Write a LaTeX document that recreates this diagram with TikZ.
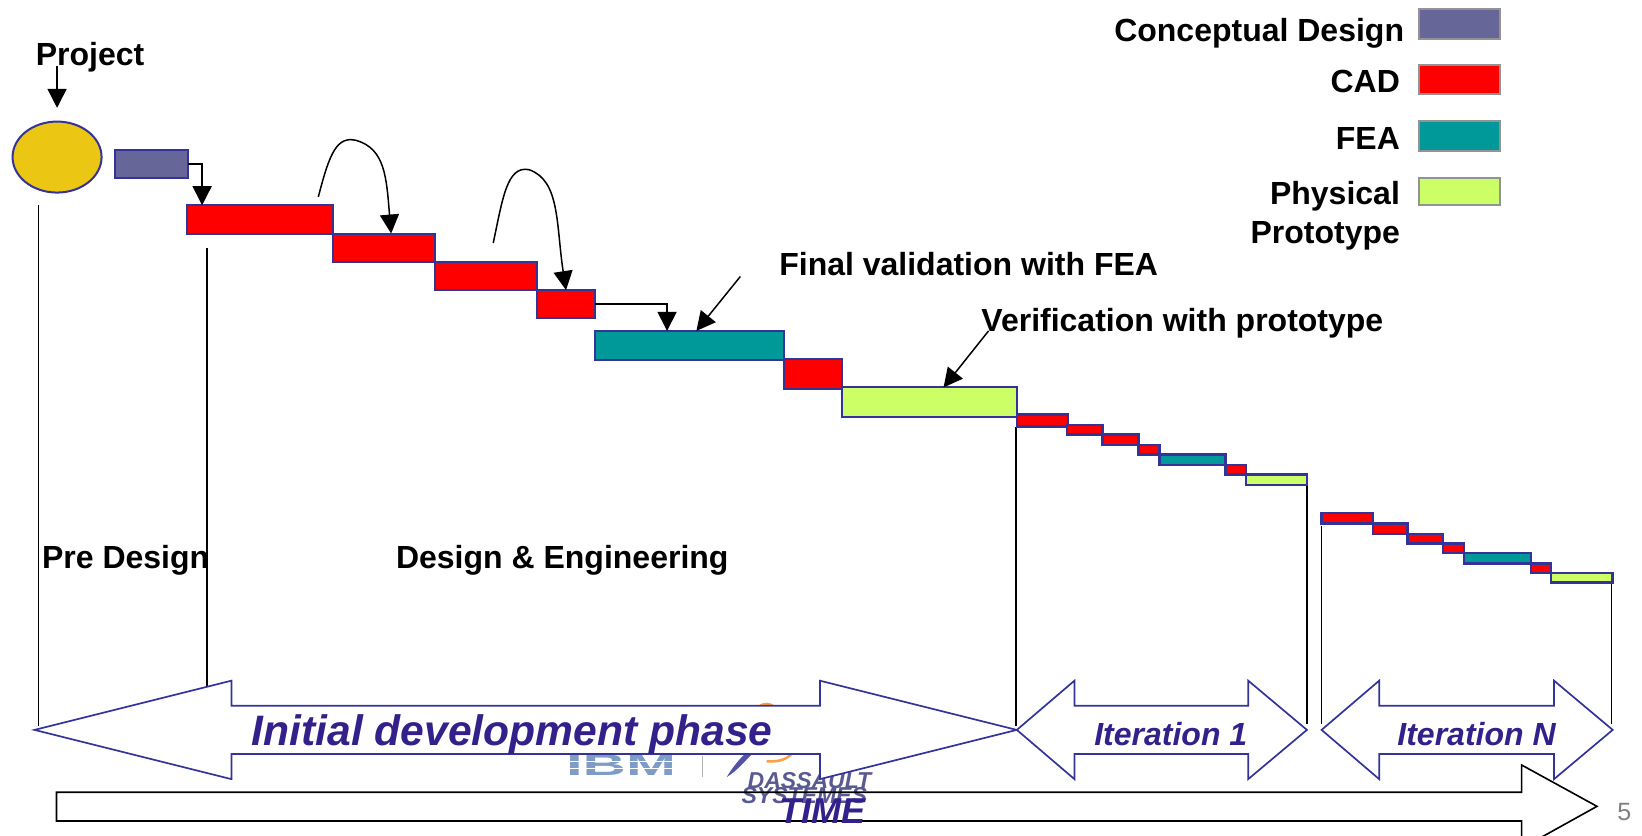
\documentclass[tikz,border=0pt]{standalone}
\usepackage{fontspec}
\setmainfont{Liberation Sans}
\usetikzlibrary{arrows.meta,shapes.geometric}
\definecolor{edgeblue}{HTML}{333399}
\definecolor{txtblue}{HTML}{33208A}
\definecolor{cdblue}{HTML}{666699}
\definecolor{cadred}{HTML}{FF0000}
\definecolor{featl}{HTML}{009999}
\definecolor{protog}{HTML}{CCFF66}
\definecolor{proj}{HTML}{EBC613}
\definecolor{logoblue}{HTML}{7F9CC6}
\definecolor{logodark}{HTML}{5A5A92}
\tikzset{
  barbox/.style={draw=edgeblue,line width=2pt,inner sep=0pt,outer sep=0pt},
  thinbar/.style={barbox,line width=2.6pt},
  legbox/.style={draw=gray!85,line width=2pt,inner sep=0pt,outer sep=0pt},
  lbl/.style={font=\fontsize{32}{39.5}\selectfont\bfseries,inner sep=0pt,text=black},
  arr/.style={draw=black,line width=1.5pt,-{Triangle[width=19pt,length=19pt]}},
  plain/.style={draw=black,line width=1.5pt},
  block/.style={draw=edgeblue,line width=1.7pt,fill=white,line join=miter},
  phase/.style={text=txtblue,font=\fontsize{32}{36}\selectfont\bfseries\itshape,inner sep=0pt},
}
\newcommand{\barn}[6]{%
  \pgfmathsetmacro{\bw}{(#5-#3)*1.0472}%
  \pgfmathsetmacro{\bh}{(#6-#4)*1.0472}%
  \node[#2,minimum width=\bw pt,minimum height=\bh pt] (#1) at ({(#3+#5)/2},{(#4+#6)/2}) {};}
\begin{document}
\begin{tikzpicture}[x=1.0472pt,y=-1.0472pt]
\useasboundingbox (0,0) rectangle (1568,798.3);
% logo
\node[inner sep=0pt,text=logoblue,font=\fontsize{30}{30}\selectfont\bfseries,xscale=2,transform shape] (ibm) at (593,731) {IBM};
\draw[white,line width=1.5pt] (530,727) -- (660,727);
\draw[white,line width=1.5pt] (530,734) -- (660,734);
\draw[gray!60,line width=1.5pt] (671,722) -- (671,742);
\fill[edgeblue!85] (694,742) .. controls (700,732) and (708,722) .. (716,716) -- (722,716) .. controls (712,726) and (704,736) .. cycle;
\fill[orange!75] (720,680) .. controls (724,668) and (740,668) .. (744,680) -- cycle;
\draw[orange!75,line width=2.5pt] (732,727) .. controls (745,728) and (755,724) .. (758,716);
\node[inner sep=0pt,text=logodark,font=\fontsize{23}{23}\selectfont\bfseries\itshape] (dass) at (773,745) {DASSAULT};
\node[inner sep=0pt,text=logodark,font=\fontsize{23}{23}\selectfont\bfseries\itshape] (syst) at (768,760) {SYSTEMES};
% vertical lines
\coordinate (v1a) at (37,196); \coordinate (v1b) at (37,693);
\coordinate (v2a) at (197.5,237); \coordinate (v2b) at (197.5,655);
\coordinate (v3a) at (970,408); \coordinate (v3b) at (970,693);
\coordinate (v4a) at (1248,463); \coordinate (v4b) at (1248,691);
\coordinate (v5a) at (1262,502); \coordinate (v5b) at (1262,691);
\coordinate (v6a) at (1539,556); \coordinate (v6b) at (1539,691);
\foreach \a/\b in {v1a/v1b,v2a/v2b,v3a/v3b,v4a/v4b,v5a/v5b,v6a/v6b}{\draw[plain] (\a) -- (\b);}
% block arrows
\draw[block] (33,697) -- (221,650) -- (221,674) -- (783,674) -- (783,650) -- (971,697) -- (783,744) -- (783,720) -- (221,720) -- (221,744) -- cycle;
\draw[block] (971,697) -- (1026,650) -- (1026,674) -- (1192,674) -- (1192,650) -- (1248,697) -- (1192,744) -- (1192,720) -- (1026,720) -- (1026,744) -- cycle;
\draw[block] (1262,697) -- (1317,650) -- (1317,674) -- (1484,674) -- (1484,650) -- (1540,697) -- (1484,744) -- (1484,720) -- (1317,720) -- (1317,744) -- cycle;
\node[phase,font=\fontsize{42.6}{46}\selectfont\bfseries\itshape] (initial) at (489,701) {Initial development phase};
\node[phase] (iter1) at (1118,701) {Iteration 1};
\node[phase] (iterN) at (1410,701) {Iteration N};
% time arrow
\draw[draw=black,line width=1.6pt] (1453,756.5) -- (54,756.5) -- (54,784) -- (1453,784) -- (1453,810) -- (1525,770) -- (1453,730.5) -- cycle;
\node[phase,font=\fontsize{36}{40}\selectfont\bfseries\itshape] (time) at (785,775) {TIME};
\node[inner sep=0pt,text=gray,font=\fontsize{25}{28}\selectfont] (pageno) at (1551,775) {5};
% ellipse and bars
\node[draw=edgeblue,line width=2pt,fill=proj,ellipse,minimum width=89pt,minimum height=71pt,inner sep=0pt,outer sep=0pt] (start) at (54.5,150) {};
\barn{cd}{barbox,fill=cdblue}{109.5}{143}{180}{170}
\barn{ra}{barbox,fill=cadred}{179}{196}{318}{223}
\barn{rb}{barbox,fill=cadred}{318}{223}{415}{250}
\barn{rc}{barbox,fill=cadred}{415}{250}{513}{277}
\barn{rd}{barbox,fill=cadred}{513}{277}{568}{304}
\barn{fa}{barbox,fill=featl}{568}{316}{749}{344}
\barn{re}{barbox,fill=cadred}{749}{343}{804}{371}
\barn{pa}{barbox,fill=protog}{804}{370}{971}{398}
\barn{ia}{thinbar,fill=cadred}{971}{396}{1020}{407}
\barn{ib}{thinbar,fill=cadred}{1019}{406}{1053}{415}
\barn{ic}{thinbar,fill=cadred}{1053}{415}{1087}{425}
\barn{id}{thinbar,fill=cadred}{1087}{425}{1107}{434}
\barn{ie}{thinbar,fill=featl}{1107}{434}{1170}{444}
\barn{if}{thinbar,fill=cadred}{1170}{444}{1190}{453}
\barn{ig}{thinbar,fill=protog}{1190}{453}{1248}{463}
\barn{na}{thinbar,fill=cadred}{1262}{490}{1311}{500}
\barn{nb}{thinbar,fill=cadred}{1311}{500}{1344}{510}
\barn{nc}{thinbar,fill=cadred}{1344}{510}{1378}{519}
\barn{nd}{thinbar,fill=cadred}{1378}{519}{1398}{528}
\barn{ne}{thinbar,fill=featl}{1398}{528}{1462}{538}
\barn{nf}{thinbar,fill=cadred}{1462}{538}{1481}{547}
\barn{ng}{thinbar,fill=protog}{1481}{547}{1540}{556}
% legend
\barn{lcd}{legbox,fill=cdblue}{1355}{9}{1432}{37}
\barn{lcad}{legbox,fill=cadred}{1355}{62}{1432}{90}
\barn{lfea}{legbox,fill=featl}{1355}{116}{1432}{144}
\barn{lpp}{legbox,fill=protog}{1355}{170}{1432}{196}
\node[lbl,anchor=east] (tcd) at (1341,32) {Conceptual Design};
\node[lbl,anchor=east] (tcad) at (1337,78) {CAD};
\node[lbl,anchor=east] (tfea) at (1337,132) {FEA};
\node[lbl,anchor=east,align=right] (tpp) at (1337,206) {Physical\\Prototype};
% labels
\node[lbl,anchor=west] (project) at (34,55) {Project};
\node[lbl,anchor=west] (pre) at (40,535) {Pre Design};
\node[lbl,anchor=west] (de) at (378,535) {Design \& Engineering};
\node[lbl,anchor=west] (fv) at (744,252) {Final validation with FEA};
\node[lbl,anchor=west] (vp) at (937,309) {Verification with prototype};
% connectors
\coordinate (pj) at (54.5,63); \coordinate (pk) at (54.5,103);
\draw[arr] (pj) -- (pk);
\draw[arr] (cd.east) -| (ra.north -| 193,196);
\coordinate (c1) at (304,188);
\draw[arr] (c1) .. controls (315,145) and (322,130) .. (340,134) .. controls (368,142) and (369,170) .. (373.5,223);
\coordinate (c2) at (471,232);
\draw[arr] (c2) .. controls (480,190) and (484,158) .. (505,162) .. controls (535,172) and (531,215) .. (540.5,277);
\draw[arr] (rd.east) -| (637,316);
\coordinate (fv1) at (707,264); \coordinate (fv2) at (665,316);
\draw[arr] (fv1) -- (fv2);
\coordinate (vp1) at (944,316); \coordinate (vp2) at (901,370);
\draw[arr] (vp1) -- (vp2);
\end{tikzpicture}
\end{document}
